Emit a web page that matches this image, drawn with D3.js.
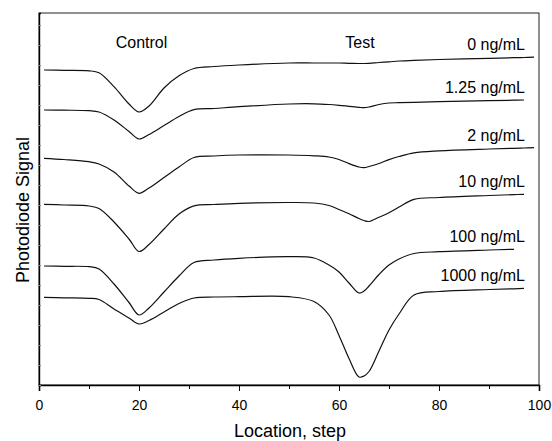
<!DOCTYPE html>
<html>
<head>
<meta charset="utf-8">
<script src="https://cdn.jsdelivr.net/npm/d3@7"></script>
<style>
body { margin: 0; background: #fff; }
svg text { font-family: "Liberation Sans", Arial, Helvetica, sans-serif; fill: #000; }
</style>
</head>
<body>
<svg width="552" height="441"></svg>
<script>
// Scan positions (step) shared by every trace
var steps = [1, 5, 10, 12, 15, 18, 20, 22, 25, 28, 31, 35, 40, 50, 55, 58, 60, 62, 64, 65, 66, 68, 70, 72, 75, 80, 90, 95, 97, 99];

var sig0 = [315, 314.7, 314.2, 312.2, 298.3, 281, 273, 279, 297, 309.2, 316.5, 318.5, 320, 322, 322, 322, 322, 321.7, 321.5, 321.5, 321.7, 322.5, 323.2, 324, 324.7, 325.5, 326.7, 327.3, 327.5, 327.8];
var sig125 = [275, 274.8, 274.3, 273, 265, 253.5, 246, 250.5, 259.5, 268.5, 275.3, 276.5, 278.3, 281, 281.2, 280.5, 279.7, 278.7, 277.7, 277.3, 278, 280.5, 282, 282.3, 282.7, 283.3, 284.3, 284.8, 285, null];
var sig2 = [226.7, 225.5, 223.3, 221, 213, 199, 191.7, 197, 207.5, 218, 227.5, 229, 230, 230, 229.2, 228, 225.5, 221.4, 218, 217.3, 218.5, 221.5, 225.4, 228.5, 232.2, 234.2, 236, 236.7, 237, 237.3];
var sig10 = [180.7, 180, 179, 176.5, 163, 146, 133.5, 140.5, 156, 171, 179.2, 180.5, 181.7, 182.5, 182, 179.5, 175.5, 171.2, 166.5, 164.5, 163.5, 167.7, 172.3, 178, 185.7, 187.5, 189.5, 190.4, 190.7, null];
var sig100 = [119, 118.7, 118.3, 116, 101, 82.5, 70, 77, 93, 109, 122.5, 125, 126.7, 128.3, 127, 120, 113, 102, 92, 94, 99, 110.5, 120, 126, 131.5, 133.3, 135, 135.7, null, null];
var sig1000 = [87.7, 87.2, 86.7, 85.5, 76, 67, 61, 64.5, 73, 81.5, 87, 88, 88.3, 88.3, 83.5, 70, 49.5, 26.5, 8, 9, 13.5, 34, 55, 71, 90, 93.5, 95.5, 96.2, 96.7, null];

var concLabels = ["0 ng/mL", "1.25 ng/mL", "2 ng/mL", "10 ng/mL", "100 ng/mL", "1000 ng/mL"];
var zoneLabels = ["Control", "Test"];
var zoneCenters = [20.5, 64.2];
var xTicks = [0, 20, 40, 60, 80, 100];
var xMinorTicks = [10, 30, 50, 70, 90];

var traces = [sig0, sig125, sig2, sig10, sig100, sig1000];

var svg = d3.select("svg");

var x = d3.scaleLinear().domain([0, 100]).range([39, 539]);
var y = d3.scaleLinear().domain([0, 372]).range([385, 13]);

// frame
svg.append("rect")
	.attr("x", x(0)).attr("y", y(372))
	.attr("width", x(100) - x(0)).attr("height", y(0) - y(372))
	.attr("fill", "none")
	.attr("stroke", "#222")
	.attr("stroke-width", 1);

// x axis, major + minor ticks
var xAxis = svg.append("g")
	.attr("transform", "translate(0," + y(0) + ")")
	.call(d3.axisBottom(x).tickValues(xTicks).tickSize(6).tickPadding(9).tickFormat(d3.format("d")));
xAxis.select(".domain").attr("stroke", "#000").attr("stroke-width", 1.6);
xAxis.selectAll("text").style("font-size", "14px");

svg.append("g")
	.attr("transform", "translate(0," + y(0) + ")")
	.call(d3.axisBottom(x).tickValues(xMinorTicks).tickSize(4).tickFormat(""))
	.select(".domain").remove();

// left axis: only tiny inner ticks, no labels
var yAxis = svg.append("g")
	.attr("transform", "translate(" + x(0) + ",0)")
	.call(d3.axisRight(y).ticks(18).tickSize(2).tickFormat(""));
yAxis.select(".domain").attr("stroke", "#000").attr("stroke-width", 1.4);
yAxis.selectAll(".tick line").attr("stroke", "#888");

// traces
var line = d3.line()
	.defined(function(d) { return d[1] !== null; })
	.x(function(d) { return x(d[0]); })
	.y(function(d) { return y(d[1]); })
	.curve(d3.curveCatmullRom.alpha(0.5));

svg.append("g")
	.selectAll("path")
	.data(traces)
	.enter()
	.append("path")
		.attr("d", function(vals) { return line(steps.map(function(s, i) { return [s, vals[i]]; })); })
		.attr("fill", "none")
		.attr("stroke", "#111")
		.attr("stroke-width", 1.2);

// concentration labels just above the right end of each trace
svg.append("g")
	.selectAll("text")
	.data(traces)
	.enter()
	.append("text")
		.attr("x", x(97.2))
		.attr("y", function(vals) {
			var last = vals.filter(function(v) { return v !== null; }).pop();
			return y(last) - 7;
		})
		.attr("text-anchor", "end")
		.style("font-size", "16px")
		.text(function(d, i) { return concLabels[i]; });

// zone labels
svg.append("g")
	.selectAll("text")
	.data(zoneLabels)
	.enter()
	.append("text")
		.attr("x", function(d, i) { return x(zoneCenters[i]); })
		.attr("y", 48)
		.attr("text-anchor", "middle")
		.style("font-size", "16px")
		.text(function(d) { return d; });

// axis titles
svg.append("text")
	.attr("x", x(50.2))
	.attr("y", 437)
	.attr("text-anchor", "middle")
	.style("font-size", "18px")
	.text("Location, step");

svg.append("text")
	.attr("transform", "translate(29," + 210 + ") rotate(-90)")
	.attr("text-anchor", "middle")
	.style("font-size", "18px")
	.text("Photodiode Signal");
</script>
</body>
</html>
